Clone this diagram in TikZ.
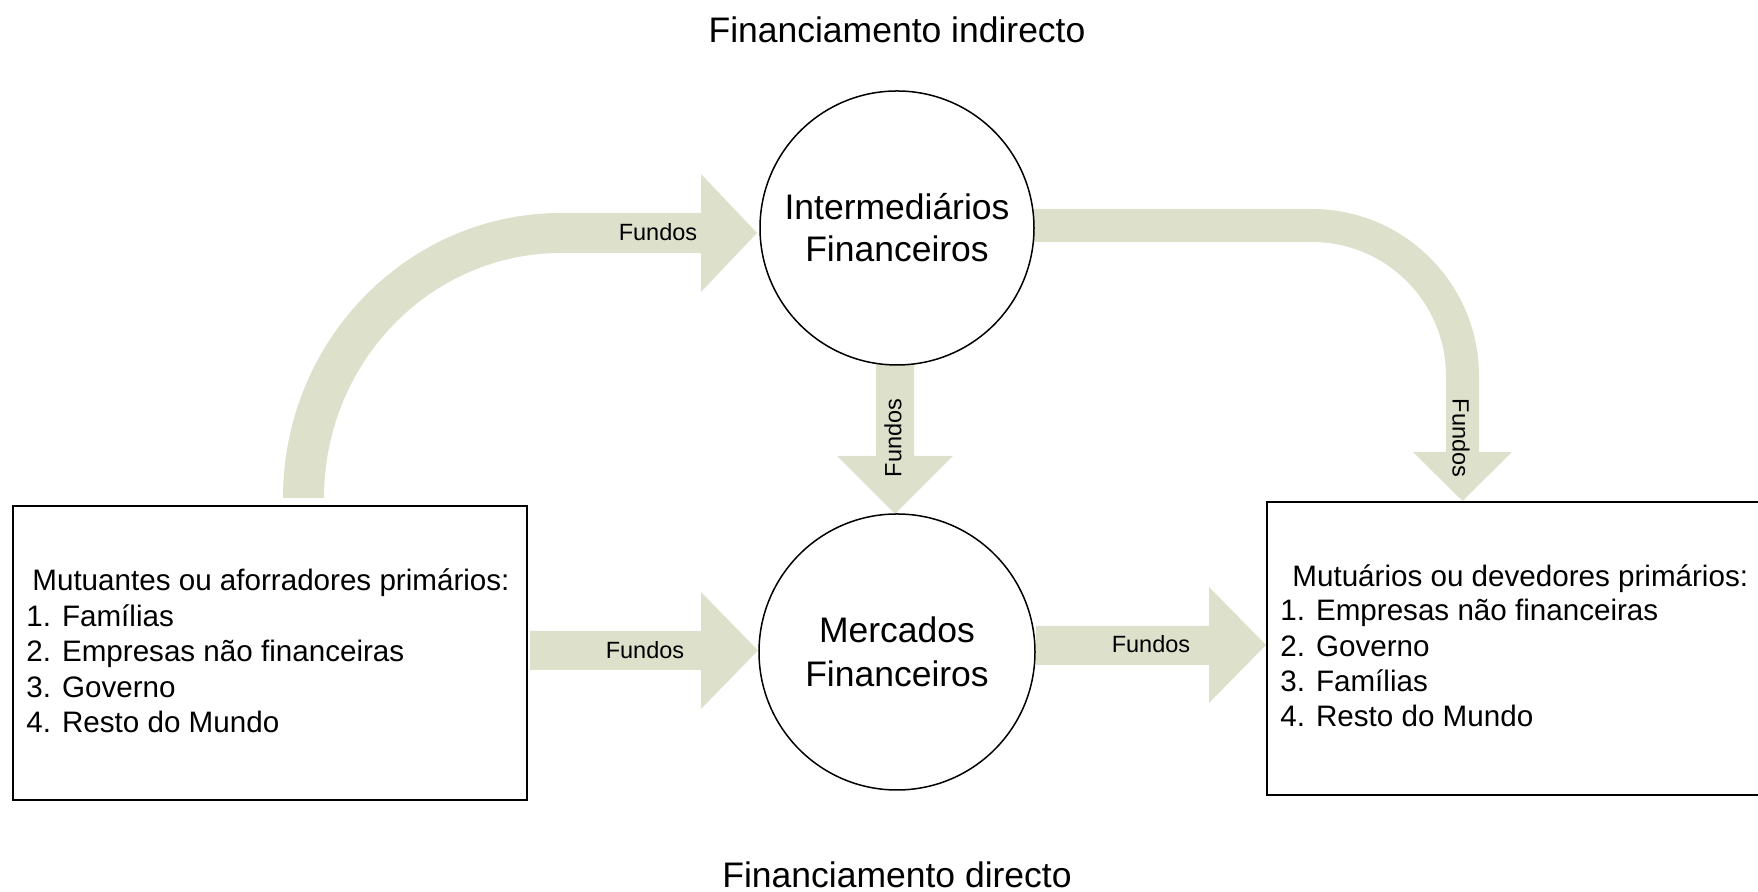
\documentclass[tikz,border=0pt]{standalone}
\usepackage{fontspec}
\setmainfont{Liberation Sans}
\definecolor{flow}{RGB}{221,225,204}
\begin{document}
\begin{tikzpicture}[x=0.5pt,y=0.5pt,
  flowarrow/.style={fill=flow,draw=none},
  bubble/.style={circle,draw,line width=0.75pt,minimum size=137pt,inner sep=0pt,align=center,font=\fontsize{17.75}{21}\selectfont},
  titletext/.style={font=\fontsize{17.75}{21}\selectfont},
  fundos/.style={font=\fontsize{11.75}{14}\selectfont,inner sep=0pt},
  item/.style={anchor=base west,inner sep=0pt,font=\fontsize{14.8}{17}\selectfont},
  frame/.style={line width=1pt}]
\useasboundingbox (0,0) rectangle (1758,892);

% block arrows
\fill[flowarrow] (283,394) arc[start angle=180,end angle=90,x radius=278,y radius=285]
  -- (701,679) -- (701,718) -- (757,659) -- (701,600) -- (701,639) -- (561,639)
  arc[start angle=90,end angle=180,x radius=237,y radius=245] -- cycle;
\fill[flowarrow] (1033,683) -- (1312,683) arc[start angle=90,end angle=0,radius=167]
  -- (1479,440) -- (1512,440) -- (1462.5,391) -- (1413,440) -- (1446,440) -- (1446,516)
  arc[start angle=0,end angle=90,radius=134] -- (1033,650) -- cycle;
\fill[flowarrow] (876,528) -- (914,528) -- (914,436) -- (953,436) -- (895,378) -- (837,436) -- (876,436) -- cycle;
\fill[flowarrow] (530,261) -- (701,261) -- (701,300) -- (758,241.5) -- (701,183) -- (701,222) -- (530,222) -- cycle;
\fill[flowarrow] (1036,266) -- (1209,266) -- (1209,305) -- (1266,247) -- (1209,189) -- (1209,227) -- (1036,227) -- cycle;

% titles
\node[titletext] (ti) at (897,862) {Financiamento indirecto};
\node[titletext] (td) at (897,17) {Financiamento directo};

% circles
\node[bubble] (IF) at (897,664) {Intermediários\\Financeiros};
\node[bubble,minimum size=138pt,font=\fontsize{17.75}{22}\selectfont] (MF) at (897,240) {Mercados\\Financeiros};

% left box
\node[draw,frame,minimum width=257pt,minimum height=147pt,inner sep=0pt] (L) at (270,239) {};
\node[item] (l1) at (32,301) {Mutuantes ou aforradores primários:};
\node[item] (l2) at (26,265) {1. Famílias};
\node[item] (l3) at (26,230) {2. Empresas não financeiras};
\node[item] (l4) at (26,194) {3. Governo};
\node[item] (l5) at (26,159) {4. Resto do Mundo};

% right box (runs past the right edge)
\coordinate (Rtr) at (1758,390);
\coordinate (Rbl) at (1267,97);
\coordinate (Rbr) at (1758,97);
\draw[frame] (Rtr) -| (Rbl) -- (Rbr);
\node[item] (r1) at (1292,305) {Mutuários ou devedores primários:};
\node[item] (r2) at (1280,271) {1. Empresas não financeiras};
\node[item] (r3) at (1280,235) {2. Governo};
\node[item] (r4) at (1280,200) {3. Famílias};
\node[item] (r5) at (1280,165) {4. Resto do Mundo};

% labels
\node[fundos] (f1) at (658,660) {Fundos};
\node[fundos] (f2) at (645,242) {Fundos};
\node[fundos] (f3) at (1151,248) {Fundos};
\node[fundos,rotate=90] (f4) at (893,454) {Fundos};
\node[fundos,rotate=-90] (f5) at (1461,454) {Fundos};
\end{tikzpicture}
\end{document}
